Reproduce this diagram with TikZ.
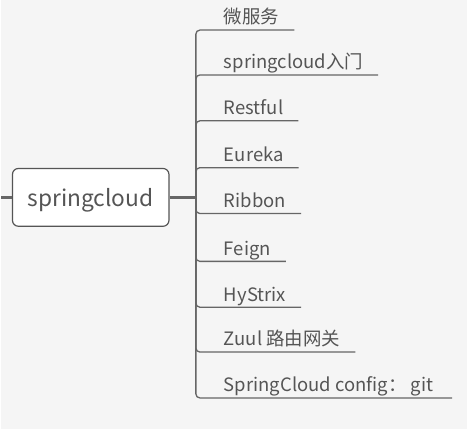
\documentclass[tikz,border=0pt]{standalone}
\usepackage{fontspec}
\setmainfont{Noto Sans CJK SC}
\usetikzlibrary{calc}
\definecolor{BackClr}{HTML}{F5F5F5}
\definecolor{LineClr}{HTML}{666666}
\definecolor{TextClr}{HTML}{555555}

\begin{document}
\begin{tikzpicture}[x=1pt,y=-1pt,
  rootbox/.style={draw=TextClr,fill=white,line width=1.2pt,rounded corners=6pt,
    minimum width=157pt,minimum height=58pt,text depth=0pt,text=TextClr,font=\fontsize{22.8}{26}\selectfont},
  leaf/.style={anchor=base west,inner xsep=15pt,inner ysep=6pt,text depth=0pt,
    text=TextClr,font=\fontsize{18.5}{22}\selectfont},
  branch/.style={draw=LineClr,line width=1.3pt,rounded corners=4pt}]
\fill[BackClr] (0,0) rectangle (467,430);

\node[rootbox] (root) at (89.5,198) {springcloud};
\coordinate (stub) at (0,198);
\coordinate (hub) at (195,198);

\node[leaf] (b1) at (208,24) {微服务};
\node[leaf] (b2) at (208,69) {springcloud入门};
\node[leaf] (b3) at (208,115) {Restful};
\node[leaf] (b4) at (208,162) {Eureka};
\node[leaf] (b5) at (208,208) {Ribbon};
\node[leaf] (b6) at (208,256) {Feign};
\node[leaf] (b7) at (208,302) {HyStrix};
\node[leaf] (b8) at (208,347) {Zuul 路由网关};
\node[leaf,inner xsep=19pt] (b9) at (204,393) {SpringCloud config： git};

\draw[LineClr,line width=3pt] (stub) -- (root.west);
\draw[LineClr,line width=3pt] (root.east) -- (hub);
\foreach \b in {b1,b2,b3,b4,b5,b6,b7,b8,b9}
  \draw[branch] (hub) |- (\b.south east);

\end{tikzpicture}
\end{document}
